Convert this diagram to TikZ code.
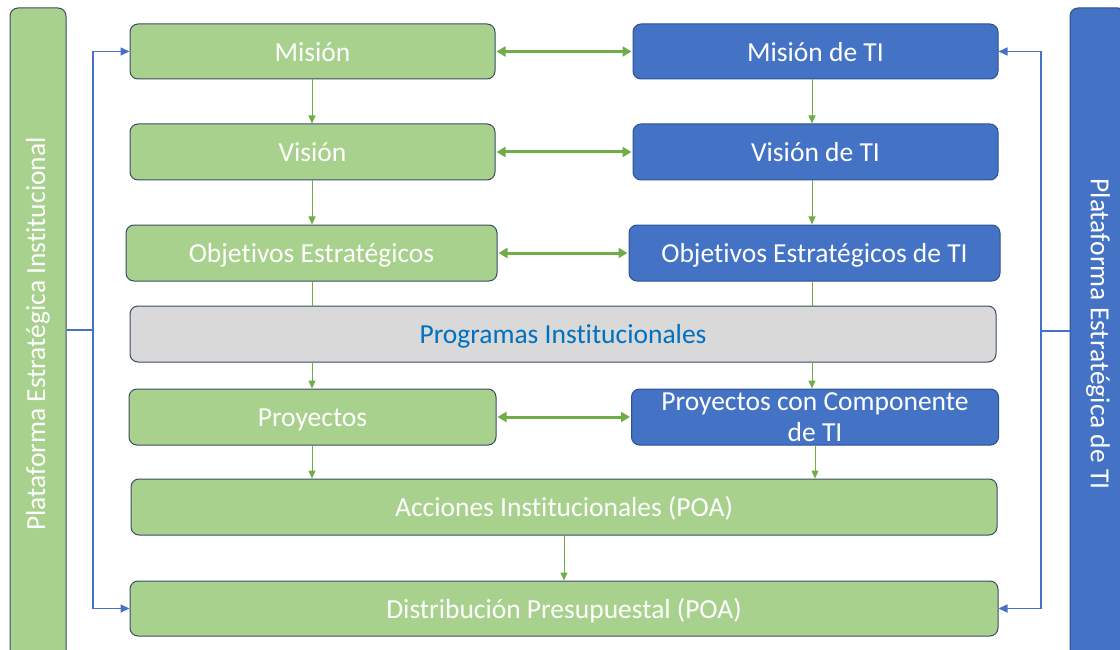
\documentclass[tikz,border=0pt]{standalone}
\usepackage{fontspec}
\setmainfont{Carlito}[Ligatures=NoCommon]
\usetikzlibrary{arrows.meta}
\definecolor{gfill}{HTML}{A9D18E}
\definecolor{bfill}{HTML}{4472C4}
\definecolor{grfill}{HTML}{D9D9D9}
\definecolor{edge}{HTML}{3A4C63}
\definecolor{bedge}{HTML}{2F528F}
\definecolor{garr}{HTML}{70AD47}
\definecolor{ptext}{HTML}{0070C0}
\tikzset{
  box/.style={draw=edge, line width=1pt, rounded corners=8pt, inner sep=0pt,
    text=white, align=center, font=\fontsize{27.5}{31}\selectfont},
  one/.style={text height=22pt, text depth=2.2pt},
  gbox/.style={box, fill=gfill},
  bbox/.style={box, fill=bfill, draw=bedge},
  grbox/.style={box, fill=grfill, text=ptext},
  vline/.style={draw=garr, line width=1pt},
  varrow/.style={vline, -{Triangle[length=8pt,width=7pt]}},
  harrow/.style={draw=garr, line width=3pt, {Triangle[length=9pt,width=10pt]}-{Triangle[length=9pt,width=10pt]}, shorten <=1pt, shorten >=1pt},
  barrow/.style={draw=bfill, line width=1.6pt, -{Triangle[length=9pt,width=8pt]}},
  bline/.style={draw=bfill, line width=1.6pt},
}
\begin{document}
\begin{tikzpicture}[x=1pt,y=-1pt]
\useasboundingbox (0,0) rectangle (1120,650);
\clip (0,0) rectangle (1120,650);
% side bars
\node[gbox, minimum width=56, minimum height=652] (lbar) at (38,334) {\rotatebox{90}{Plataforma Estratégica Institucional}};
\node[bbox, minimum width=56, minimum height=652] (rbar) at (1098,334) {\rotatebox{-90}{Plataforma Estratégica de TI}};
% boxes
\node[gbox, one, minimum width=365, minimum height=55] (mision) at (312.5,51.5) {Misión};
\node[bbox, one, minimum width=365, minimum height=55] (misionti) at (815.5,51.5) {Misión de TI};
\node[gbox, one, minimum width=365, minimum height=56] (vision) at (312.5,152) {Visión};
\node[bbox, one, minimum width=365, minimum height=56] (visionti) at (815.5,152) {Visión de TI};
\node[gbox, one, minimum width=371, minimum height=56] (obj) at (311.5,253) {Objetivos Estratégicos};
\node[bbox, one, minimum width=371, minimum height=56] (objti) at (814.5,253) {Objetivos Estratégicos de TI};
\node[grbox, one, minimum width=866, minimum height=56] (prog) at (563,334) {Programas Institucionales};
\node[gbox, one, minimum width=367, minimum height=56] (proy) at (312.5,417) {Proyectos};
\node[bbox, minimum width=367, minimum height=56] (proyti) at (815,417) {Proyectos con Componente\\de TI};
\node[gbox, one, minimum width=866, minimum height=56] (acc) at (564,507) {Acciones Institucionales (POA)};
\node[gbox, one, minimum width=868, minimum height=55] (dist) at (564,608.5) {Distribución Presupuestal (POA)};
% column coordinates
\coordinate (cl) at (312,0);
\coordinate (cr) at (812,0);
\coordinate (cr2) at (815,0);
\coordinate (cm) at (564,0);
% vertical green arrows, left column
\draw[varrow] (mision.south -| cl) -- (vision.north -| cl);
\draw[varrow] (vision.south -| cl) -- (obj.north -| cl);
\draw[vline] (obj.south -| cl) -- (prog.north -| cl);
\draw[varrow] (prog.south -| cl) -- (proy.north -| cl);
\draw[varrow] (proy.south -| cl) -- (acc.north -| cl);
% vertical green arrows, right column
\draw[varrow] (misionti.south -| cr) -- (visionti.north -| cr);
\draw[varrow] (visionti.south -| cr) -- (objti.north -| cr);
\draw[vline] (objti.south -| cr) -- (prog.north -| cr);
\draw[varrow] (prog.south -| cr) -- (proyti.north -| cr);
\draw[varrow] (proyti.south -| cr2) -- (acc.north -| cr2);
% centre
\draw[varrow] (acc.south -| cm) -- (dist.north -| cm);
% horizontal double arrows
\draw[harrow] (mision.east) -- (misionti.west);
\draw[harrow] (vision.east) -- (visionti.west);
\draw[harrow] (obj.east) -- (objti.west);
\draw[harrow] (proy.east) -- (proyti.west);
% blue connectors
\coordinate (jl) at (93,330);
\coordinate (jr) at (1041,331);
\draw[bline] (lbar.east |- jl) -- (jl);
\draw[barrow] (jl) |- (mision.west);
\draw[barrow] (jl) |- (dist.west);
\draw[bline] (rbar.west |- jr) -- (jr);
\draw[barrow] (jr) |- (misionti.east);
\draw[barrow] (jr) |- (dist.east);
\end{tikzpicture}
\end{document}
